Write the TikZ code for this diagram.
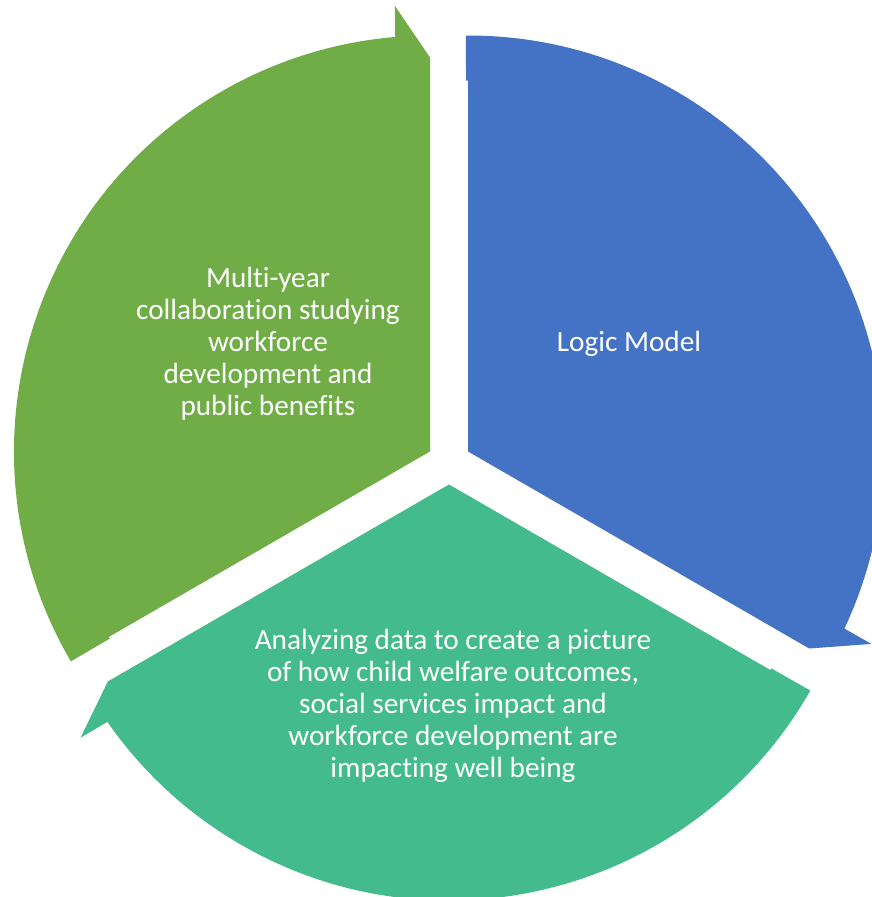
\documentclass[tikz,border=0pt]{standalone}
\usepackage{fontspec}
\newfontfamily\carlito{Carlito}[Ligatures=NoCommon]
\definecolor{segGreen}{HTML}{70AD47}
\definecolor{segBlue}{HTML}{4472C4}
\definecolor{segTeal}{HTML}{44BB8C}
\tikzset{
	segText/.style={text=white, align=center, font={\carlito\fontsize{20.8}{22.8}\selectfont}}
}
\begin{document}
\begin{tikzpicture}[x=0.025cm, y=0.025cm]
			\useasboundingbox (0,0) rectangle (872,897);
			
			%segments with arrow heads
			\foreach \px/\py/\s/\col in {430/445.5/210/segGreen, 468/445.5/90/segBlue, 449/412.5/-30/segTeal}{
				\begin{scope}[shift={(\px,\py)}]
					\fill[\col] (0,0) -- ({\s}:371) -- ({\s+0.3}:371) -- ({\s+0.3}:416)
						arc[start angle=\s+0.3, end angle=\s-115.2, radius=416]
						-- ({\s-115.5}:447) -- ({\s-120}:394) -- cycle;
				\end{scope}
			}
			
			%labels
			\node (greenText) at (268, 553) [segText]{Multi-year\\collaboration studying\\workforce\\development and\\public benefits};
			\node (blueText) at (629, 553) [segText]{Logic Model};
			\node (tealText) at (453, 191) [segText]{Analyzing data to create a picture\\of how child welfare outcomes,\\social services impact and\\workforce development are\\impacting well being};
		\end{tikzpicture}
\end{document}
